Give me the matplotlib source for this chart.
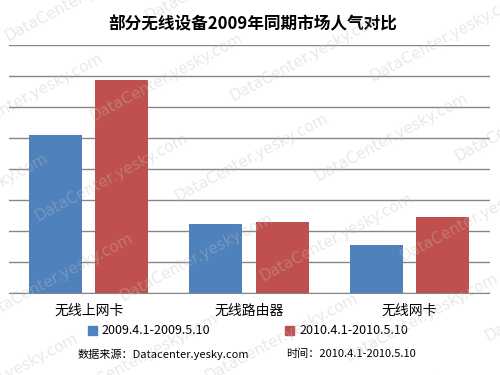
import numpy as np
import matplotlib
matplotlib.use('Agg')
import matplotlib.pyplot as plt
from matplotlib.patches import Patch

plt.rcParams['font.family'] = ['Noto Sans CJK SC', 'DejaVu Sans']

# data (grid units, no axis labels shown)
categories = ['无线上网卡', '无线路由器', '无线网卡']
series_names = ['2009.4.1-2009.5.10', '2010.4.1-2010.5.10']
values_2009 = [5.1, 2.23, 1.55]
values_2010 = [6.87, 2.29, 2.45]
colors = ['#4F81BD', '#C0504D']

title = '部分无线设备2009年同期市场人气对比'
source_text = '数据来源：Datacenter.yesky.com'
time_text = '时间：2010.4.1-2010.5.10'
watermark = 'DataCenter.yesky.com'

fig = plt.figure(figsize=(5, 3.75), dpi=100)
ax = fig.add_axes([0.017, 1 - 293 / 375, 0.962, (293 - 45) / 375])

x = np.arange(len(categories))
w = 0.33
off = 0.207
ax.bar(x - off, values_2009, w, color=colors[0], zorder=2)
ax.bar(x + off, values_2010, w, color=colors[1], zorder=2)

ax.set_xlim(-0.5, 2.5)
ax.set_ylim(0, 8)
ax.set_yticks(range(0, 9))
ax.yaxis.grid(True, color='#868686', linewidth=1)
ax.set_axisbelow(True)
ax.tick_params(axis='y', length=0, labelleft=False)
ax.set_xticks(x)
ax.set_xticklabels(categories, fontsize=10)
ax.tick_params(axis='x', length=0, pad=8)
for s in ['left', 'right', 'top']:
    ax.spines[s].set_visible(False)
ax.spines['bottom'].set_color('#868686')

fig.text(0.505, 1 - 24 / 375, title, ha='center', va='center',
         fontsize=12, fontweight='bold')

handles = [Patch(color=c) for c in colors]
fig.legend(handles, series_names, loc='center', ncol=2, frameon=False,
           bbox_to_anchor=(0.496, 1 - 331 / 375), fontsize=9,
           handlelength=0.7, handleheight=0.7, handletextpad=0.4,
           columnspacing=6.0, borderpad=0)

fig.text(78 / 500, 1 - 354 / 375, source_text, ha='left', va='center', fontsize=8)
fig.text(286 / 500, 1 - 354 / 375, time_text, ha='left', va='center', fontsize=8)

# faint tiled watermark over the whole picture
for i in range(-2, 4):
    for j in range(-2, 4):
        cx = 251 + 140 * i - 55 * j
        cy = 157 - 20 * i + 100 * j
        if -80 < cx < 580 and -40 < cy < 420:
            fig.text(cx / 500, 1 - cy / 375, watermark, ha='center', va='center',
                     rotation=28, fontsize=11, color='#c0c0c0', alpha=0.35,
                     family='DejaVu Sans', zorder=10)

fig.savefig('out.png', dpi=100)
